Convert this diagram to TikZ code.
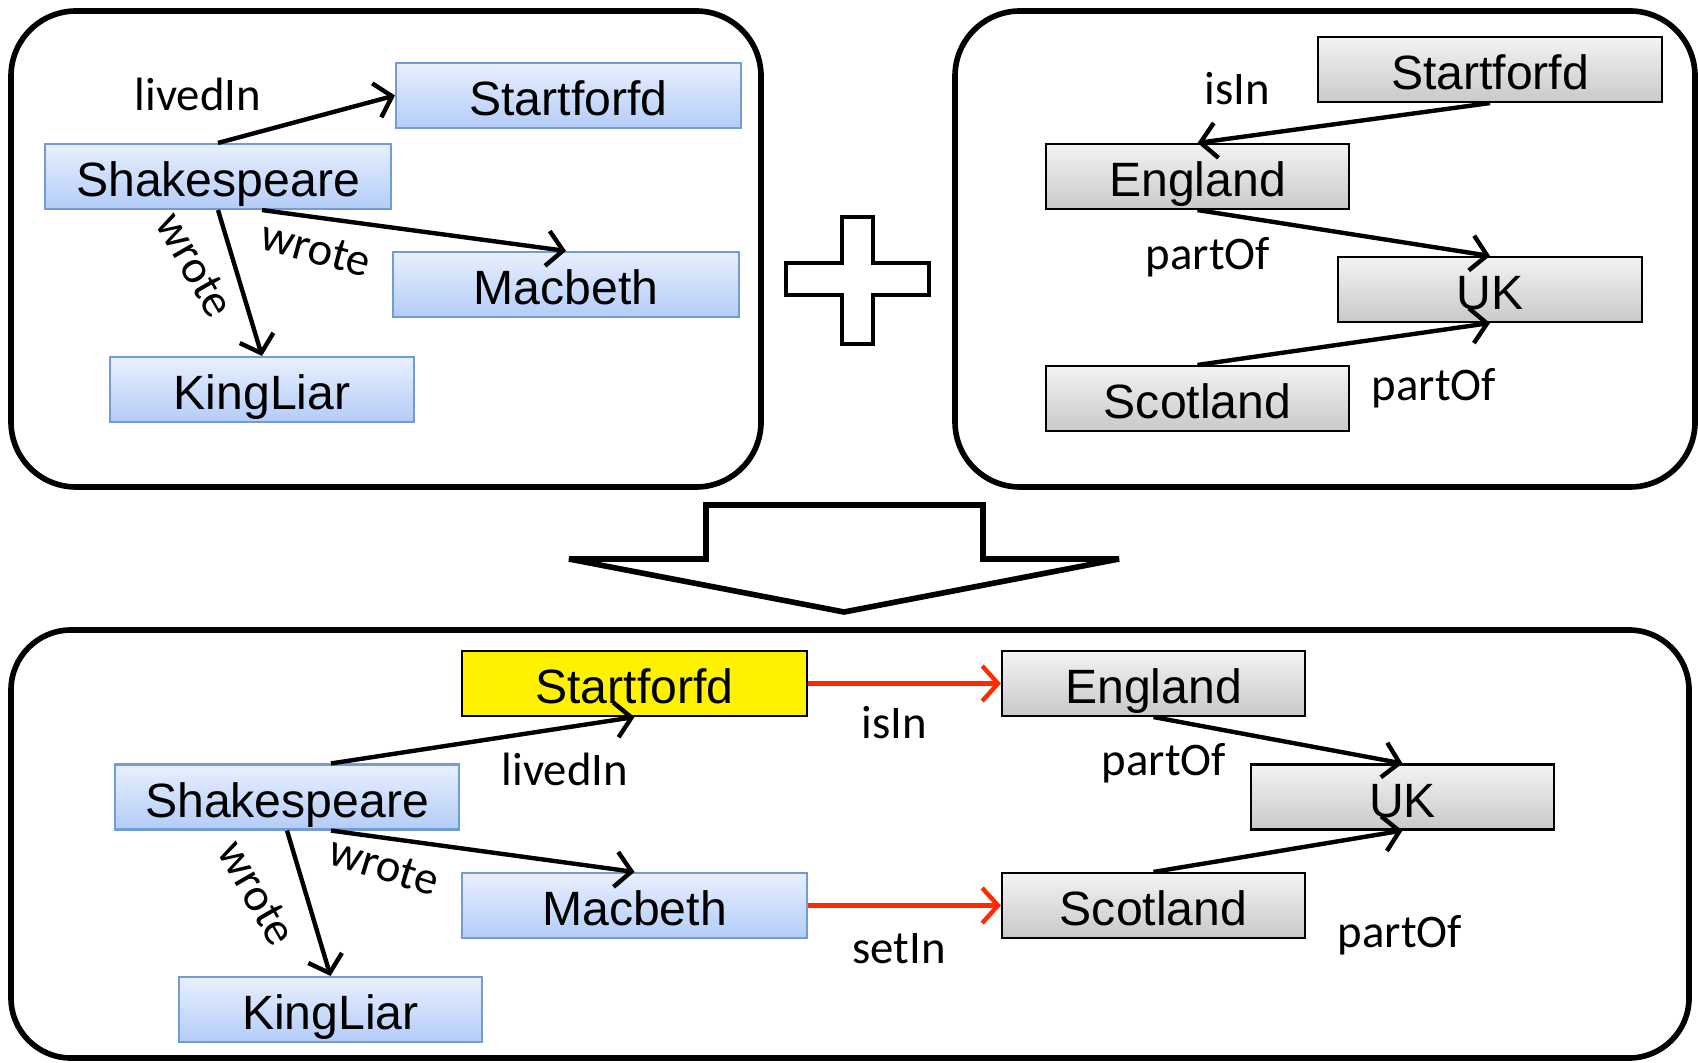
\documentclass[tikz,border=0pt]{standalone}
\usepackage{fontspec}
\setmainfont{Liberation Sans}
\newfontfamily\lblfont{Carlito}
\usepackage{tikz}
\usetikzlibrary{arrows.meta}
\tikzset{>={Straight Barb[length=4.5pt,width=10pt]}}
\definecolor{blueedge}{HTML}{739BD5}
\definecolor{bluetop}{HTML}{E8F0FE}
\definecolor{bluebot}{HTML}{B3CCF8}
\definecolor{graytop}{HTML}{F3F3F3}
\definecolor{graybot}{HTML}{C9C9C9}
\definecolor{linkred}{HTML}{FF2A00}
\tikzset{
    panel/.style={line width=1.6pt, rounded corners=0.65cm},
    entity/.style={minimum height=0.65cm, inner sep=0pt, line width=0.6pt, text height=11.4pt, text depth=0pt, font=\fontsize{13.7}{16}\selectfont},
    bluebox/.style={entity, draw=blueedge, top color=bluetop, bottom color=bluebot},
    graybox/.style={entity, draw=black, top color=graytop, bottom color=graybot},
    yellowbox/.style={entity, draw=black, fill=yellow},
    lbl/.style={font=\lblfont\fontsize{13.3}{16}\selectfont},
    link/.style={->, line width=1.25pt},
}

\begin{document}
\begin{tikzpicture}
    \useasboundingbox (0, 0) rectangle (16.98, 10.62);
    % panels
    \draw[panel](0.11, 10.51) rectangle (7.61, 5.75);
    \draw[panel](9.55, 10.51) rectangle (16.95, 5.75);
    \draw[panel, rounded corners=0.6cm](0.11, 4.32) rectangle (16.89, 0.04);
    % plus and down arrow
    \draw[line width=1pt](8.42, 8.45)--(8.73, 8.45)--(8.73, 7.99)--(9.29, 7.99)--(9.29, 7.67)--(8.73, 7.67)--(8.73, 7.18)--(8.42, 7.18)--(8.42, 7.67)--(7.86, 7.67)--(7.86, 7.99)--(8.42, 7.99)--cycle;
    \draw[line width=1.6pt, line join=miter](7.06, 5.57)--(9.83, 5.57)--(9.83, 5.03)--(11.19, 5.03)--(8.44, 4.50)--(5.69, 5.03)--(7.06, 5.03)--cycle;

    % first graph
    \node[bluebox, minimum width=3.45cm] (tlStart) at (5.685, 9.665) {Startforfd};
    \node[bluebox, minimum width=3.46cm] (tlShake) at (2.18, 8.855) {Shakespeare};
    \node[bluebox, minimum width=3.46cm] (tlMac) at (5.66, 7.775) {Macbeth};
    \node[bluebox, minimum width=3.04cm] (tlKing) at (2.62, 6.725) {KingLiar};
    \draw[link](tlShake.north)--(tlStart.west);
    \draw[link]([xshift=0.44cm]tlShake.south)--(tlMac.north);
    \draw[link](tlShake.south)--(tlKing.north);
    \node[lbl] (tlLived) at (1.98, 9.68) {livedIn};
    \node[lbl, rotate=-15] (tlWrote) at (3.16, 8.13) {wrote};
    \node[lbl, rotate=-60] (tlWroteK) at (1.95, 7.97) {wrote};

    % second graph
    \node[graybox, minimum width=3.44cm] (trStart) at (14.90, 9.925) {Startforfd};
    \node[graybox, minimum width=3.03cm] (trEng) at (11.975, 8.855) {England};
    \node[graybox, minimum width=3.04cm] (trUK) at (14.90, 7.725) {UK};
    \node[graybox, minimum width=3.03cm] (trScot) at (11.975, 6.635) {Scotland};
    \draw[link](trStart.south)--(trEng.north);
    \draw[link](trEng.south)--(trUK.north);
    \draw[link](trScot.north)--(trUK.south);
    \node[lbl] (trIsIn) at (12.37, 9.73) {isIn};
    \node[lbl] (trPartE) at (12.08, 8.05) {partOf};
    \node[lbl] (trPartS) at (14.34, 6.74) {partOf};

    % merged graph
    \node[yellowbox, minimum width=3.45cm] (bStart) at (6.345, 3.785) {Startforfd};
    \node[graybox, minimum width=3.03cm] (bEng) at (11.535, 3.785) {England};
    \node[bluebox, minimum width=3.44cm] (bShake) at (2.87, 2.65) {Shakespeare};
    \node[graybox, minimum width=3.03cm] (bUK) at (14.025, 2.65) {UK};
    \node[bluebox, minimum width=3.45cm] (bMac) at (6.345, 1.565) {Macbeth};
    \node[graybox, minimum width=3.03cm] (bScot) at (11.535, 1.565) {Scotland};
    \node[bluebox, minimum width=3.03cm] (bKing) at (3.305, 0.525) {KingLiar};
    \draw[link]([xshift=0.44cm]bShake.north)--(bStart.south);
    \draw[link]([xshift=0.44cm]bShake.south)--(bMac.north);
    \draw[link](bShake.south)--(bKing.north);
    \draw[link, linkred](bStart.east)--(bEng.west);
    \draw[link, linkred](bMac.east)--(bScot.west);
    \draw[link](bEng.south)--(bUK.north);
    \draw[link](bScot.north)--(bUK.south);
    \node[lbl] (bIsIn) at (8.94, 3.39) {isIn};
    \node[lbl] (bLived) at (5.65, 2.93) {livedIn};
    \node[lbl] (bPartE) at (11.64, 2.99) {partOf};
    \node[lbl, rotate=-17] (bWrote) at (3.84, 1.96) {wrote};
    \node[lbl, rotate=-60] (bWroteK) at (2.57, 1.69) {wrote};
    \node[lbl] (bSetIn) at (8.99, 1.13) {setIn};
    \node[lbl] (bPartS) at (14.00, 1.27) {partOf};
\end{tikzpicture}
\end{document}
